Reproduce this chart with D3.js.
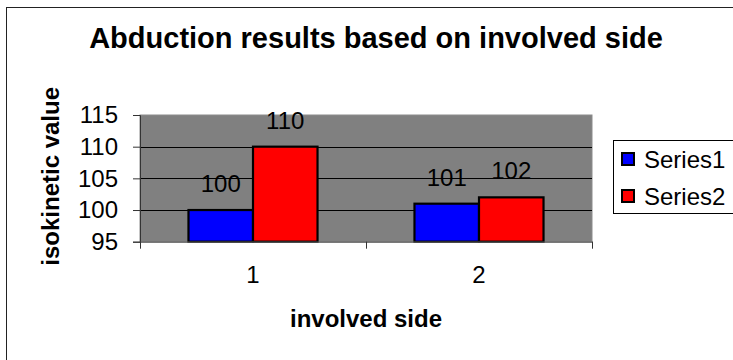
<!DOCTYPE html>
<html>
<head>
<meta charset="utf-8">
<script src="https://cdn.jsdelivr.net/npm/d3@7"></script>
<style>
  html, body { margin: 0; padding: 0; background: #fff; }
  svg { display: block; }
  text { font-family: Arial, "Liberation Sans", sans-serif; fill: #000; }
</style>
</head>
<body>
<svg id="chart" width="733" height="360"></svg>
<script>
// Chart data
const categories = ["1", "2"];
const seriesNames = ["Series1", "Series2"];
const series1 = [100, 101];
const series2 = [110, 102];
const seriesColors = ["#0000ff", "#ff0000"];
const yTicks = [95, 100, 105, 110, 115];
const yDomain = [95, 115];

const titleText = "Abduction results based on involved side";
const xTitle = "involved side";
const yTitle = "isokinetic value";

const svg = d3.select("#chart");

// Outer chart frame (runs past the right and bottom edges)
svg.append("rect")
  .attr("x", 6.5).attr("y", 7.5)
  .attr("width", 800).attr("height", 400)
  .attr("fill", "#fff").attr("stroke", "#222").attr("stroke-width", 1);

const plot = { left: 140, right: 592, top: 115, bottom: 241.7 };

const x = d3.scaleBand()
  .domain(categories)
  .range([plot.left, plot.right])
  .paddingInner(0.429)
  .paddingOuter(0.2145);

const xInner = d3.scaleBand()
  .domain(seriesNames)
  .range([0, x.bandwidth()]);

const y = d3.scaleLinear().domain(yDomain).range([plot.bottom, plot.top]);

// Plot area
svg.append("rect")
  .attr("x", plot.left).attr("y", plot.top)
  .attr("width", plot.right - plot.left).attr("height", plot.bottom - plot.top)
  .attr("fill", "#808080").attr("stroke", "#8c8c8c").attr("stroke-width", 1);

// Horizontal gridlines
svg.append("g").selectAll("line")
  .data(yTicks.filter(t => t > yDomain[0] && t < yDomain[1]))
  .join("line")
  .attr("x1", plot.left).attr("x2", plot.right)
  .attr("y1", d => Math.round(y(d)) + 0.5).attr("y2", d => Math.round(y(d)) + 0.5)
  .attr("stroke", "#000").attr("stroke-width", 1);

// Bars
const rows = categories.map((c, i) => ({ cat: c, values: [series1[i], series2[i]] }));
const groups = svg.append("g").selectAll("g")
  .data(rows).join("g")
  .attr("transform", d => `translate(${x(d.cat)},0)`);

groups.selectAll("rect")
  .data(d => d.values.map((v, j) => ({ name: seriesNames[j], value: v, color: seriesColors[j] })))
  .join("rect")
  .attr("x", d => xInner(d.name))
  .attr("y", d => y(d.value))
  .attr("width", xInner.bandwidth())
  .attr("height", d => y(yDomain[0]) - y(d.value))
  .attr("fill", d => d.color)
  .attr("stroke", "#000").attr("stroke-width", 2.2);

// Value labels
groups.selectAll("text")
  .data(d => d.values.map((v, j) => ({ name: seriesNames[j], value: v })))
  .join("text")
  .attr("x", d => xInner(d.name) + xInner.bandwidth() / 2)
  .attr("y", d => y(d.value) - 18)
  .attr("text-anchor", "middle")
  .attr("font-size", 24)
  .text(d => d.value);

// Y axis
const yAxis = svg.append("g")
  .attr("transform", `translate(${plot.left},0)`)
  .call(d3.axisLeft(y).tickValues(yTicks).tickSize(7).tickPadding(15).tickFormat(d3.format("d")));
yAxis.select(".domain").attr("stroke", "#333");
yAxis.selectAll(".tick line").attr("stroke", "#333");
yAxis.selectAll(".tick text")
  .attr("font-size", 24)
  .attr("font-family", 'Arial, "Liberation Sans", sans-serif')
  .attr("fill", "#000");

// X axis: labels centred on categories, ticks between categories
const xAxis = svg.append("g")
  .attr("transform", `translate(0,${plot.bottom})`)
  .call(d3.axisBottom(x).tickSize(0).tickPadding(24));
xAxis.select(".domain").attr("stroke", "#555").attr("stroke-width", 1.2);
xAxis.selectAll(".tick text")
  .attr("font-size", 24)
  .attr("font-family", 'Arial, "Liberation Sans", sans-serif')
  .attr("fill", "#000");

const boundaries = categories.map(c => x(c) - x.step() * x.paddingInner() / 2).concat([plot.right]);
xAxis.append("g").selectAll("line")
  .data(boundaries).join("line")
  .attr("x1", d => Math.round(d) + 0.5).attr("x2", d => Math.round(d) + 0.5)
  .attr("y1", 0).attr("y2", 7)
  .attr("stroke", "#333");

// Title
svg.append("text")
  .attr("x", 376).attr("y", 48)
  .attr("text-anchor", "middle")
  .attr("font-size", 29).attr("font-weight", "bold")
  .text(titleText);

// Axis titles
svg.append("text")
  .attr("x", 366).attr("y", 327)
  .attr("text-anchor", "middle")
  .attr("font-size", 24).attr("font-weight", "bold")
  .text(xTitle);

svg.append("text")
  .attr("transform", `translate(59,${(plot.top + plot.bottom) / 2 - 2}) rotate(-90)`)
  .attr("text-anchor", "middle")
  .attr("font-size", 24).attr("font-weight", "bold")
  .text(yTitle);

// Legend
const legend = svg.append("g");
legend.append("rect")
  .attr("x", 613.5).attr("y", 140.5)
  .attr("width", 200).attr("height", 73)
  .attr("fill", "#fff").attr("stroke", "#000").attr("stroke-width", 1);

const items = legend.selectAll("g.item")
  .data(seriesNames).join("g")
  .attr("class", "item")
  .attr("transform", (d, i) => `translate(622,${153 + i * 37})`);
items.append("rect")
  .attr("width", 12).attr("height", 12)
  .attr("fill", (d, i) => seriesColors[i])
  .attr("stroke", "#000").attr("stroke-width", 2);
items.append("text")
  .attr("x", 22).attr("y", 15)
  .attr("font-size", 24)
  .text(d => d);
</script>
</body>
</html>
